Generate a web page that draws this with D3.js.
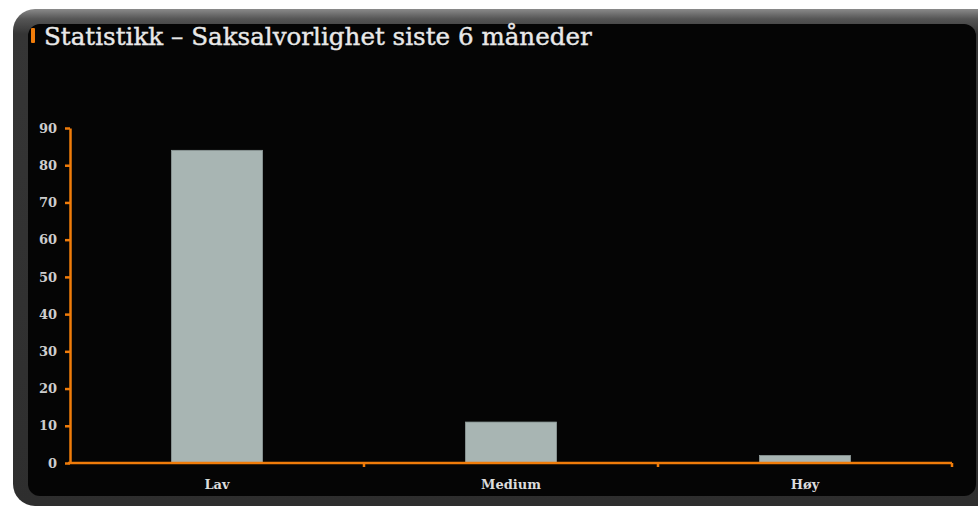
<!DOCTYPE html>
<html>
<head>
<meta charset="utf-8">
<script src="https://cdn.jsdelivr.net/npm/d3@7"></script>
<style>
  html, body { margin: 0; padding: 0; background: #fff; }
  svg { display: block; }
</style>
</head>
<body>
<div id="chart"></div>
<script>
// Saksalvorlighet bar chart

const categories = ['Lav', 'Medium', 'Høy'];
const values = [84, 11, 2];
const yTicks = [0, 10, 20, 30, 40, 50, 60, 70, 80, 90];
const title = 'Statistikk – Saksalvorlighet siste 6 måneder';

const width = 978;
const height = 509;

const svg = d3.select('#chart')
    .append('svg')
    .attr('width', width)
    .attr('height', height);

const defs = svg.append('defs');

// Frame gradient (lighter top rim)
const grad = defs.append('linearGradient')
    .attr('id', 'frameGrad')
    .attr('x1', 0).attr('y1', 0).attr('x2', 0).attr('y2', 1);
grad.append('stop').attr('offset', '0%').attr('stop-color', '#8a8a8a');
grad.append('stop').attr('offset', '2%').attr('stop-color', '#555');
grad.append('stop').attr('offset', '5%').attr('stop-color', '#353535');
grad.append('stop').attr('offset', '100%').attr('stop-color', '#2e2e2e');

// Outer frame
svg.append('rect')
    .attr('x', 13)
    .attr('y', 9)
    .attr('width', 990)
    .attr('height', 497)
    .attr('rx', 22)
    .attr('fill', 'url(#frameGrad)');

// Inner black panel
svg.append('rect')
    .attr('x', 28)
    .attr('y', 24)
    .attr('width', 948)
    .attr('height', 472)
    .attr('rx', 12)
    .attr('fill', '#050505');

// Orange title marker
svg.append('rect')
    .attr('x', 31)
    .attr('y', 28)
    .attr('width', 4)
    .attr('height', 15)
    .attr('rx', 1)
    .attr('fill', '#f07c0a');

// Title
const titleText = svg.append('text')
    .attr('x', 44)
    .attr('y', 45)
    .attr('fill', '#e8e8e8')
    .attr('font-family', '"DejaVu Serif", serif')
    .attr('font-size', 24)
    .style('paint-order', 'stroke')
    .attr('stroke', '#e8e8e8')
    .attr('stroke-width', 0.4)
    .text(title);
const tl = titleText.node().getComputedTextLength();
titleText.attr('font-size', 24 * 548 / tl);

// Plot area
const margin = { left: 70, right: 952, top: 128, bottom: 463 };

const x = d3.scaleBand()
    .domain(categories)
    .range([margin.left, margin.right])
    .paddingInner(0.69)
    .paddingOuter(0.345);

const xOuter = d3.scaleBand()
    .domain(categories)
    .range([margin.left, margin.right]);

const y = d3.scaleLinear()
    .domain([0, 90])
    .range([margin.bottom, margin.top]);

const axisColor = '#f07c0a';

// Bars
svg.append('g')
    .selectAll('rect')
    .data(values)
    .join('rect')
    .attr('x', (d, i) => x(categories[i]))
    .attr('y', d => y(d))
    .attr('width', x.bandwidth())
    .attr('height', d => y(0) - y(d))
    .attr('fill', '#a8b5b3')
    .attr('stroke', '#8e9b99')
    .attr('stroke-width', 0.8);

// Y axis
const yAxis = svg.append('g')
    .attr('transform', `translate(${margin.left},0)`)
    .call(d3.axisLeft(y).tickValues(yTicks).tickSize(5).tickSizeOuter(0).tickPadding(8));
yAxis.select('.domain').attr('stroke', axisColor).attr('stroke-width', 2.5);
yAxis.selectAll('.tick line').attr('stroke', axisColor).attr('stroke-width', 2.5);
yAxis.selectAll('.tick text')
    .attr('fill', '#cdcdcd')
    .attr('font-family', '"DejaVu Serif", serif')
    .attr('font-weight', 'bold')
    .attr('font-size', 13);

// X axis: ticks at category boundaries
const boundaries = categories.map(c => xOuter(c)).concat([margin.right]);
svg.append('line')
    .attr('x1', margin.left - 2)
    .attr('x2', margin.right)
    .attr('y1', y(0))
    .attr('y2', y(0))
    .attr('stroke', axisColor)
    .attr('stroke-width', 2.5);
svg.append('g')
    .selectAll('line')
    .data(boundaries.slice(1))
    .join('line')
    .attr('x1', d => d)
    .attr('x2', d => d)
    .attr('y1', y(0))
    .attr('y2', y(0) + 4)
    .attr('stroke', axisColor)
    .attr('stroke-width', 2.5);

// X labels
svg.append('g')
    .selectAll('text')
    .data(categories)
    .join('text')
    .attr('x', d => xOuter(d) + xOuter.bandwidth() / 2)
    .attr('y', 489)
    .attr('text-anchor', 'middle')
    .attr('fill', '#dcdcdc')
    .attr('font-family', '"DejaVu Serif", serif')
    .attr('font-weight', 'bold')
    .attr('font-size', 13)
    .text(d => d);
</script>
</body>
</html>
